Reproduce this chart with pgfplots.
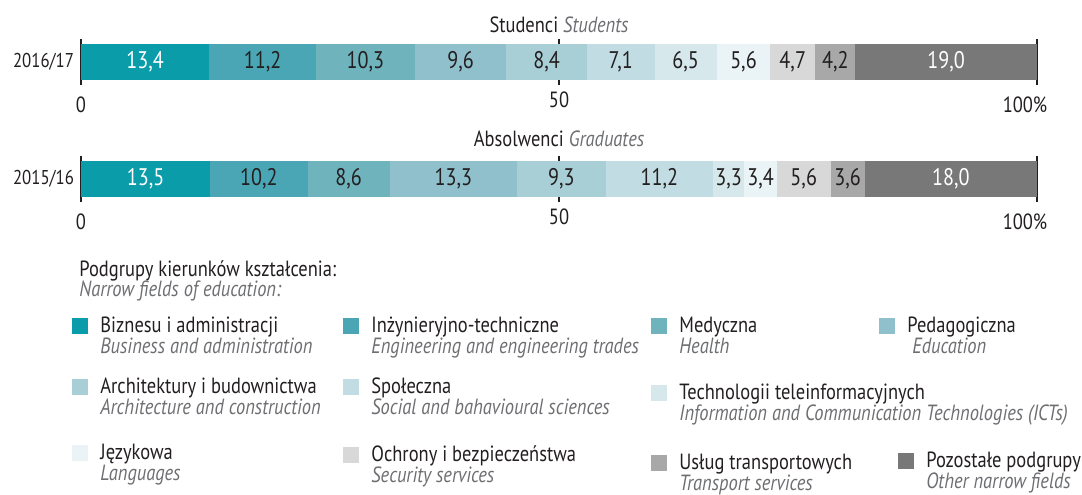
\documentclass[border=0pt]{standalone}
\usepackage{fontspec}
\setmainfont{PT Sans}[FakeStretch=0.84]
\usepackage{pgfplots}
\pgfplotsset{compat=1.18}

\definecolor{c1}{HTML}{0A9CA8}
\definecolor{c2}{HTML}{4AA6B4}
\definecolor{c3}{HTML}{6FB3BD}
\definecolor{c4}{HTML}{90C0CB}
\definecolor{c5}{HTML}{A8CED6}
\definecolor{c6}{HTML}{C1DCE2}
\definecolor{c7}{HTML}{D6E8EC}
\definecolor{c8}{HTML}{EAF3F6}
\definecolor{c9}{HTML}{D8D8D8}
\definecolor{c10}{HTML}{A8A8A8}
\definecolor{c11}{HTML}{787878}
\definecolor{textdark}{HTML}{231F20}
\definecolor{textgray}{HTML}{6D6E71}

\newcommand{\lbl}{\fontsize{11pt}{13pt}\selectfont}
\newcommand{\barlbl}{\fontsize{12pt}{14pt}\selectfont}

\pgfplotsset{
  sharebar/.style={
    xbar stacked, scale only axis, width=478pt, height=23pt,
    xmin=0, xmax=100, ymin=0, ymax=2, enlargelimits=false,
    bar width=18pt,
    axis line style={draw=none}, major tick length=0pt,
    xtick={0,50,100},
    xticklabels={\raisebox{-2.5pt}[\height][0pt]{0},50,
      {\hbox{\raisebox{-2.5pt}[\height][0pt]{100\%}\kern12pt}}},
    xmajorgrids, grid style={draw=textdark, line width=0.7pt},
    ytick={1},
    tick label style={font=\lbl, text=textdark},
    yticklabel style={font=\fontsize{10pt}{12pt}\selectfont},
    title style={at={(0.5,1)}, anchor=base, font=\lbl, text=textdark},
    % stacked bars already put these labels in the middle of each segment
    nodes near coords,
    every node near coord/.append style={anchor=center, font=\barlbl, text=textdark},
    /pgf/number format/.cd, fixed, fixed zerofill, precision=1, use comma,
    assume math mode=true,
  },
  s1/.style={fill=c1, draw=none, every node near coord/.append style={text=white}},
  s2/.style={fill=c2, draw=none}, s3/.style={fill=c3, draw=none},
  s4/.style={fill=c4, draw=none}, s5/.style={fill=c5, draw=none},
  s6/.style={fill=c6, draw=none}, s7/.style={fill=c7, draw=none},
  s8/.style={fill=c8, draw=none}, s9/.style={fill=c9, draw=none},
  s10/.style={fill=c10, draw=none},
  s11/.style={fill=c11, draw=none, every node near coord/.append style={text=white}},
}

% legend item: square left x, square centre y (px), colour, Polish, English, indent of English
\newcommand{\legitem}[6]{%
  \fill[#3] (#1,#2-8) rectangle ++(16,16);
  \node[anchor=base west, inner sep=0, text=textdark, font=\lbl] at (#1+28,#2+6) {#4};
  \node[anchor=base west, inner sep=0, text=textgray, font=\lbl\itshape] at (#1+28+#6,#2+27) {#5};}

\begin{document}
\begin{tikzpicture}
\path[use as bounding box] (0,0) rectangle (541pt,-247pt);

% Studenci 2016/17
\begin{axis}[sharebar, at={(40.5pt,-42.5pt)}, anchor=south west,
  yticklabels={2016/17},
  title style={yshift=-2.5pt},
  title={Studenci \textcolor{textgray}{\itshape Students}}]
\addplot[s1] coordinates {(13.4,1)};
\addplot[s2] coordinates {(11.2,1)};
\addplot[s3] coordinates {(10.3,1)};
\addplot[s4] coordinates {(9.6,1)};
\addplot[s5] coordinates {(8.4,1)};
\addplot[s6] coordinates {(7.1,1)};
\addplot[s7] coordinates {(6.5,1)};
\addplot[s8] coordinates {(5.6,1)};
\addplot[s9] coordinates {(4.7,1)};
\addplot[s10] coordinates {(4.2,1)};
\addplot[s11] coordinates {(19.0,1)};
\end{axis}

% Absolwenci 2015/16
\begin{axis}[sharebar, at={(40.5pt,-101pt)}, anchor=south west,
  yticklabels={2015/16},
  title style={yshift=-1pt},
  title={Absolwenci \textcolor{textgray}{\itshape Graduates}}]
\addplot[s1] coordinates {(13.5,1)};
\addplot[s2] coordinates {(10.2,1)};
\addplot[s3] coordinates {(8.6,1)};
\addplot[s4] coordinates {(13.3,1)};
\addplot[s5] coordinates {(9.3,1)};
\addplot[s6] coordinates {(11.2,1)};
\addplot[s7] coordinates {(3.3,1)};
\addplot[s8] coordinates {(3.4,1)};
\addplot[s9] coordinates {(5.6,1)};
\addplot[s10] coordinates {(3.6,1)};
\addplot[s11] coordinates {(18.0,1)};
\end{axis}

\begin{scope}[x=0.5pt, y=-0.5pt]
\node[anchor=base west, inner sep=0, text=textdark, font=\lbl] at (79,276) {Podgrupy kierunków kształcenia:};
\node[anchor=base west, inner sep=0, text=textgray, font=\lbl\itshape] at (79,296) {Narrow fields of education:};
\legitem{72}{326}{c1}{Biznesu i administracji}{Business and administration}{0}
\legitem{343}{326}{c2}{Inżynieryjno-techniczne}{Engineering and engineering trades}{0}
\legitem{651}{326}{c3}{Medyczna}{Health}{0}
\legitem{879}{326}{c4}{Pedagogiczna}{Education}{5}
\legitem{72}{387}{c5}{Architektury i budownictwa}{Architecture and construction}{0}
\legitem{343}{387}{c6}{Społeczna}{Social and bahavioural sciences}{0}
\legitem{651}{393}{c7}{Technologii teleinformacyjnych}{Information and Communication Technologies (ICTs)}{0}
\legitem{72}{453}{c8}{Językowa}{Languages}{0}
\legitem{343}{455}{c9}{Ochrony i bezpieczeństwa}{Security services}{0}
\legitem{651}{463}{c10}{Usług transportowych}{Transport services}{0}
\legitem{898}{461}{c11}{Pozostałe podgrupy}{Other  narrow fields}{0}
\end{scope}
\end{tikzpicture}
\end{document}
